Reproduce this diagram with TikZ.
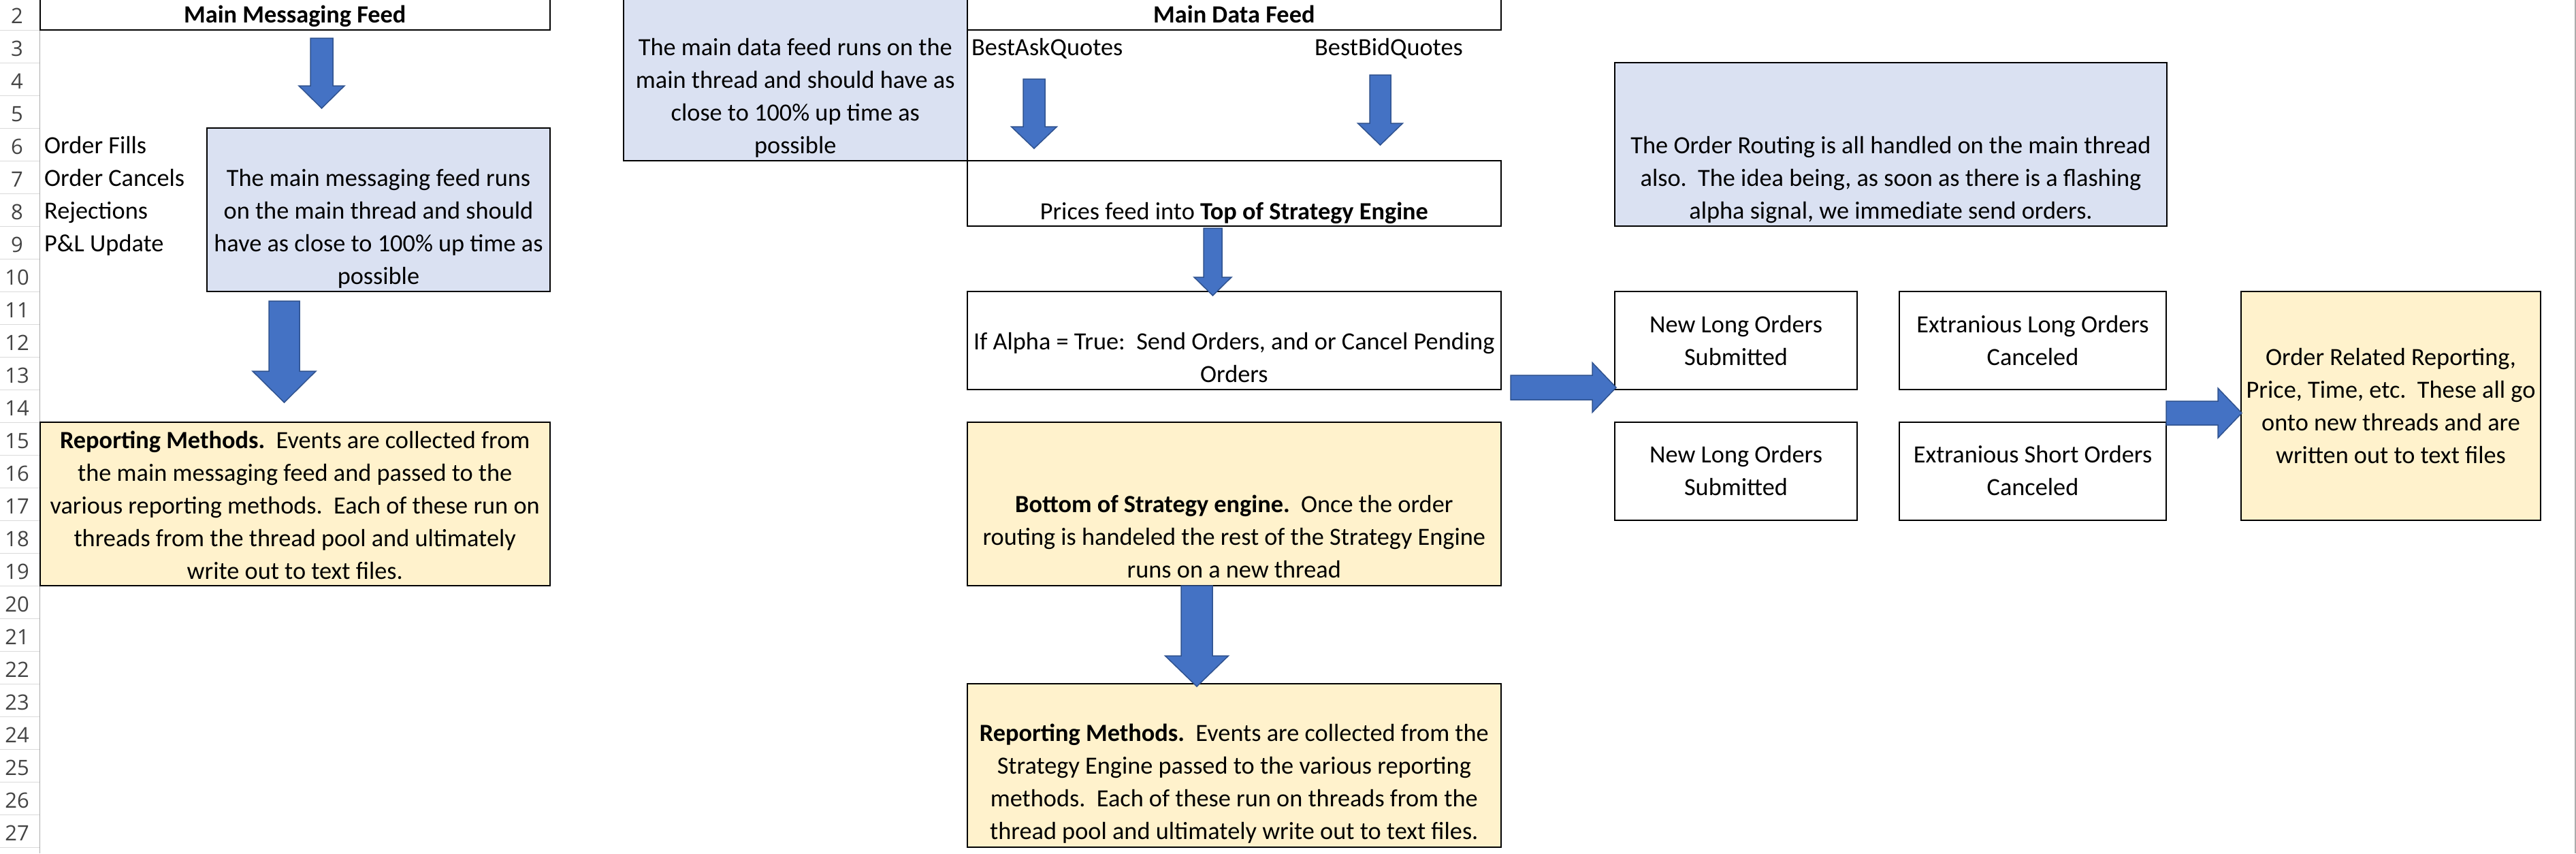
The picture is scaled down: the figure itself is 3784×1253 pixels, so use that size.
\documentclass[tikz,border=0pt]{standalone}
\usepackage{fontspec}
\setmainfont{Carlito}
\newfontfamily\hdrfont{Open Sans}
\usetikzlibrary{fit,calc}
\definecolor{cellblue}{HTML}{DAE1F2}
\definecolor{cellgold}{HTML}{FFF2CC}
\definecolor{arrfill}{HTML}{4472C4}
\definecolor{arrline}{HTML}{2F528F}
\definecolor{hdrgrid}{HTML}{DADADA}
\definecolor{hdrline}{HTML}{ABABAB}
\definecolor{hdrtext}{HTML}{444444}
\frenchspacing
\newcommand{\celltext}[1]{\vbox{\baselineskip=48pt\lineskiplimit=-100pt\lineskip=0pt\halign{\hfil##\hfil\cr#1\crcr}}}
\newcommand{\blkdown}[5]{%
  \filldraw[blockarrow] let \p1=(#1), \p2=(#2) in
   (\x1-#3pt,\y1) -- (\x1+#3pt,\y1) -- (\x1+#3pt,\y2+#5pt) -- (\x1+#4pt,\y2+#5pt)
   -- (\x2,\y2) -- (\x1-#4pt,\y2+#5pt) -- (\x1-#3pt,\y2+#5pt) -- cycle;}
\newcommand{\blkright}[5]{%
  \filldraw[blockarrow] let \p1=(#1), \p2=(#2) in
   (\x1,\y1+#3pt) -- (\x2-#5pt,\y1+#3pt) -- (\x2-#5pt,\y1+#4pt) -- (\x2,\y2)
   -- (\x2-#5pt,\y1-#4pt) -- (\x2-#5pt,\y1-#3pt) -- (\x1,\y1-#3pt) -- cycle;}
\tikzset{
  cellbox/.style={draw=black, line width=2pt, inner sep=0pt},
  bluebox/.style={cellbox, fill=cellblue},
  goldbox/.style={cellbox, fill=cellgold},
  whitebox/.style={cellbox, fill=white},
  txt/.style={inner sep=0pt, font=\fontsize{36.3}{48}\selectfont, anchor=base},
  lbl/.style={txt, anchor=base west},
  hdrnum/.style={inner sep=0pt, anchor=base, text=hdrtext, font=\hdrfont\fontsize{31}{36}\selectfont},
  blockarrow/.style={fill=arrfill, draw=arrline, line width=1.5pt, line join=miter},
}
\begin{document}
\begin{tikzpicture}[x=1pt,y=-1pt]
\useasboundingbox (0,0) rectangle (3784,1253);
\clip (0,0) rectangle (3784,1253);
\fill[white] (0,0) rectangle (3784,1253);

% row header
\foreach \k in {0,...,25} \draw[hdrgrid, line width=1.2pt] (0,{44.3+\k*48}) -- (58.5,{44.3+\k*48});
\draw[hdrline, line width=1.6pt] (58.5,0) -- (58.5,1253);
\draw[hdrline, line width=1.6pt] (3783,0) -- (3783,1253);
\foreach \n in {2,...,27} \node[hdrnum] (r\n) at (25,{44.3+(\n-2)*48-10}) {\n};

% boxes
\node[whitebox, fit={(58.5,-20) (808,44.3)}] (mmf) {};
\node[bluebox, fit={(304,188.3) (808,428.3)}] (blue1) {};
\node[goldbox, fit={(58.5,620.3) (808,860.3)}] (rep1) {};
\node[bluebox, fit={(916,-20) (1420.6,236.3)}] (blue2) {};
\node[whitebox, fit={(1420.6,-20) (2205,44.3)}] (mdf) {};
\node[whitebox, fit={(1420.6,236.3) (2205,332.3)}] (top) {};
\node[whitebox, fit={(1420.6,428.3) (2205,572.3)}] (alpha) {};
\node[goldbox, fit={(1420.6,620.3) (2205,860.3)}] (bot) {};
\node[goldbox, fit={(1420.6,1004.3) (2205,1244.3)}] (rep2) {};
\node[bluebox, fit={(2372,92.3) (3183,332.3)}] (route) {};
\node[whitebox, fit={(2372,428.3) (2728,572.3)}] (nl1) {};
\node[whitebox, fit={(2790,428.3) (3182,572.3)}] (el) {};
\node[whitebox, fit={(2372,620.3) (2728,764.3)}] (nl2) {};
\node[whitebox, fit={(2790,620.3) (3182,764.3)}] (es) {};
\node[goldbox, fit={(3292,428.3) (3732,764.3)}] (ord) {};

% texts
\node[txt] (mmf-t) at (433.25,33) {\textbf{Main Messaging Feed}};
\node[lbl] (l1) at (65,225) {Order Fills};
\node[lbl] (l2) at (65,273) {Order Cancels};
\node[lbl] (l3) at (65,321) {Rejections};
\node[lbl] (l4) at (65,369) {P\&L Update};
\node[txt] (blue1-t) at (556,417) {\celltext{The main messaging feed runs\cr on the main thread and should\cr have as close to 100\% up time as\cr possible}};
\node[txt] (rep1-t) at (433.25,850) {\celltext{\textbf{Reporting Methods.}~~Events are collected from\cr the main messaging feed and passed to the\cr various reporting methods.~~Each of these run on\cr threads from the thread pool and ultimately\cr write out to text files.}};
\node[txt] (blue2-t) at (1168.3,225) {\celltext{The main data feed runs on the\cr main thread and should have as\cr close to 100\% up time as\cr possible}};
\node[txt] (mdf-t) at (1812.8,33) {\textbf{Main Data Feed}};
\node[lbl] (ask) at (1427,81) {BestAskQuotes};
\node[lbl] (bid) at (1931,81) {BestBidQuotes};
\node[txt] (top-t) at (1812.8,322) {Prices feed into \textbf{Top of Strategy Engine}};
\node[txt] (alpha-t) at (1812.8,561) {\celltext{If Alpha = True:~~Send Orders, and or Cancel Pending\cr Orders}};
\node[txt] (bot-t) at (1812.8,848) {\celltext{\textbf{Bottom of Strategy engine.}~~Once the order\cr routing is handeled the rest of the Strategy Engine\cr runs on a new thread}};
\node[txt] (rep2-t) at (1812.8,1232) {\celltext{\textbf{Reporting Methods.}~~Events are collected from the\cr Strategy Engine passed to the various reporting\cr methods.~~Each of these run on threads from the\cr thread pool and ultimately write out to text files.}};
\node[txt] (route-t) at (2777.5,321) {\celltext{The Order Routing is all handled on the main thread\cr also.~~The idea being, as soon as there is a flashing\cr alpha signal, we immediate send orders.}};
\node[txt] (nl1-t) at (2550,536) {\celltext{New Long Orders\cr Submitted}};
\node[txt] (el-t) at (2986,536) {\celltext{Extranious Long Orders\cr Canceled}};
\node[txt] (nl2-t) at (2550,727) {\celltext{New Long Orders\cr Submitted}};
\node[txt] (es-t) at (2986,727) {\celltext{Extranious Short Orders\cr Canceled}};
\node[txt] (ord-t) at (3512,680) {\celltext{Order Related Reporting,\cr Price, Time, etc.~~These all go\cr onto new threads and are\cr written out to text files}};

% block arrows
\coordinate (a1s) at (472.5,56);   \coordinate (a1e) at (472.5,159);
\coordinate (a2s) at (417.5,442);  \coordinate (a2e) at (417.5,591);
\coordinate (a3s) at (1519,116);   \coordinate (a3e) at (1519,218);
\coordinate (a4s) at (2027.5,110); \coordinate (a4e) at (2027.5,213);
\coordinate (a5s) at (1781.5,335); \coordinate (a5e) at (1781.5,434);
\coordinate (a6s) at (1758,860);   \coordinate (a6e) at (1758,1008);
\coordinate (a7s) at (2219,569);   \coordinate (a7e) at (2374,569);
\coordinate (a8s) at (3182,606.5); \coordinate (a8e) at (3293,606.5);
\blkdown{a1s}{a1e}{16.5}{33.5}{33}
\blkdown{a2s}{a2e}{22.5}{46.5}{46}
\blkdown{a3s}{a3e}{16}{33.5}{32}
\blkdown{a4s}{a4e}{15.5}{33}{32}
\blkdown{a5s}{a5e}{13.5}{27.5}{27}
\blkdown{a6s}{a6e}{23}{46.5}{45}
\blkright{a7s}{a7e}{18}{36.5}{35}
\blkright{a8s}{a8e}{17.5}{36.5}{35}
\end{tikzpicture}
\end{document}
